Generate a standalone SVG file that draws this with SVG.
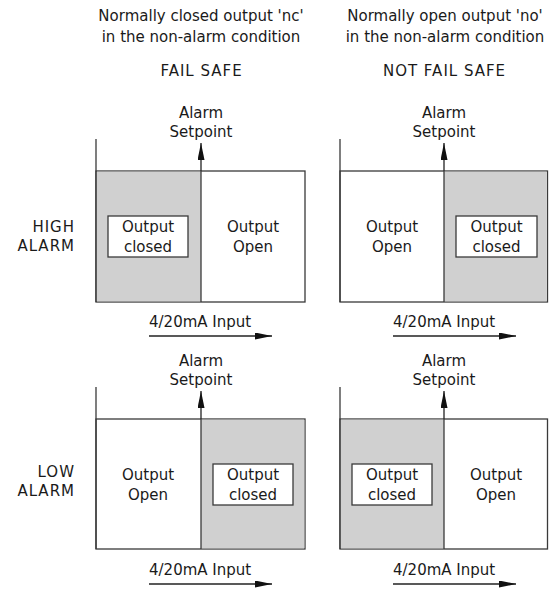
<svg xmlns="http://www.w3.org/2000/svg" width="549" height="590" viewBox="0 0 549 590">
<style>
text{font-family:"DejaVu Sans","Liberation Sans",sans-serif;font-size:15px;fill:#1a1a1a}
.c{text-anchor:middle}
.e{text-anchor:end}
.u{letter-spacing:1px}
.fr{fill:#fff;stroke:#3a3a3a;stroke-width:1.3}
.sh{fill:#d0d0d0;stroke:none}
.ln{fill:none;stroke:#3a3a3a;stroke-width:1.3}
.ib{fill:#fff;stroke:#3a3a3a;stroke-width:1.3}
.ar{fill:none;stroke:#222;stroke-width:1.3}
</style>
<defs>
<marker id="ah" markerUnits="userSpaceOnUse" markerWidth="18" markerHeight="8" refX="17" refY="3.5" orient="auto">
<path d="M0,0 L17,3.5 L0,7 z" fill="#111"/>
</marker>
</defs>
<g id="headings">
<text class="c" x="201" y="21">Normally closed output 'nc'</text>
<text class="c" x="201" y="41.5">in the non-alarm condition</text>
<text class="c u" x="201.5" y="76">FAIL SAFE</text>
<text class="c" x="445" y="21">Normally open output 'no'</text>
<text class="c" x="445" y="41.5">in the non-alarm condition</text>
<text class="c u" x="444.5" y="76">NOT FAIL SAFE</text>
</g>
<g id="row-labels">
<text class="e u" x="75" y="232">HIGH</text>
<text class="e u" x="75" y="251">ALARM</text>
<text class="e u" x="75" y="477">LOW</text>
<text class="e u" x="75" y="496">ALARM</text>
</g>
<g id="panel-high-failsafe">
<rect class="fr" x="96" y="171" width="209" height="131"/>
<rect class="sh" x="96.7" y="171.7" width="104.3" height="129.6"/>
<line class="ln" x1="96" y1="139" x2="96" y2="302"/>
<line class="ln" x1="201" y1="171" x2="201" y2="302"/>
<rect class="ib" x="108" y="216" width="80" height="41"/>
<text class="c" x="148" y="232">Output</text>
<text class="c" x="148" y="252">closed</text>
<text class="c" x="253" y="232">Output</text>
<text class="c" x="253" y="252">Open</text>
<text class="c" x="201" y="118">Alarm</text>
<text class="c" x="201" y="137">Setpoint</text>
<text x="149" y="327">4/20mA Input</text>
</g>
<g id="panel-high-notfailsafe">
<rect class="fr" x="340" y="171" width="207.5" height="131"/>
<rect class="sh" x="444" y="171.7" width="102.8" height="129.6"/>
<line class="ln" x1="340" y1="139" x2="340" y2="302"/>
<line class="ln" x1="444" y1="171" x2="444" y2="302"/>
<rect class="ib" x="456" y="216" width="81" height="41"/>
<text class="c" x="496.5" y="232">Output</text>
<text class="c" x="496.5" y="252">closed</text>
<text class="c" x="392" y="232">Output</text>
<text class="c" x="392" y="252">Open</text>
<text class="c" x="444" y="118">Alarm</text>
<text class="c" x="444" y="137">Setpoint</text>
<text x="393" y="327">4/20mA Input</text>
</g>
<g id="panel-low-failsafe">
<rect class="fr" x="96" y="419" width="209" height="130"/>
<rect class="sh" x="201" y="419.7" width="103.3" height="128.6"/>
<line class="ln" x1="96" y1="387" x2="96" y2="549"/>
<line class="ln" x1="201" y1="419" x2="201" y2="549"/>
<rect class="ib" x="213" y="464" width="80" height="41"/>
<text class="c" x="253" y="480">Output</text>
<text class="c" x="253" y="500">closed</text>
<text class="c" x="148" y="480">Output</text>
<text class="c" x="148" y="500">Open</text>
<text class="c" x="201" y="366">Alarm</text>
<text class="c" x="201" y="385">Setpoint</text>
<text x="149" y="575">4/20mA Input</text>
</g>
<g id="panel-low-notfailsafe">
<rect class="fr" x="340" y="419" width="207.5" height="130"/>
<rect class="sh" x="340.7" y="419.7" width="103.3" height="128.6"/>
<line class="ln" x1="340" y1="387" x2="340" y2="549"/>
<line class="ln" x1="444" y1="419" x2="444" y2="549"/>
<rect class="ib" x="352" y="464" width="80" height="41"/>
<text class="c" x="392" y="480">Output</text>
<text class="c" x="392" y="500">closed</text>
<text class="c" x="496" y="480">Output</text>
<text class="c" x="496" y="500">Open</text>
<text class="c" x="444" y="366">Alarm</text>
<text class="c" x="444" y="385">Setpoint</text>
<text x="393" y="575">4/20mA Input</text>
</g>
<g id="connectors">
<line class="ar" x1="201" y1="171" x2="201" y2="143" marker-end="url(#ah)"/>
<line class="ar" x1="444" y1="171" x2="444" y2="143" marker-end="url(#ah)"/>
<line class="ar" x1="201" y1="419" x2="201" y2="391" marker-end="url(#ah)"/>
<line class="ar" x1="444" y1="419" x2="444" y2="391" marker-end="url(#ah)"/>
<line class="ar" x1="149" y1="336" x2="272" y2="336" marker-end="url(#ah)"/>
<line class="ar" x1="393" y1="336" x2="516" y2="336" marker-end="url(#ah)"/>
<line class="ar" x1="149" y1="584" x2="272" y2="584" marker-end="url(#ah)"/>
<line class="ar" x1="393" y1="584" x2="516" y2="584" marker-end="url(#ah)"/>
</g>
</svg>
